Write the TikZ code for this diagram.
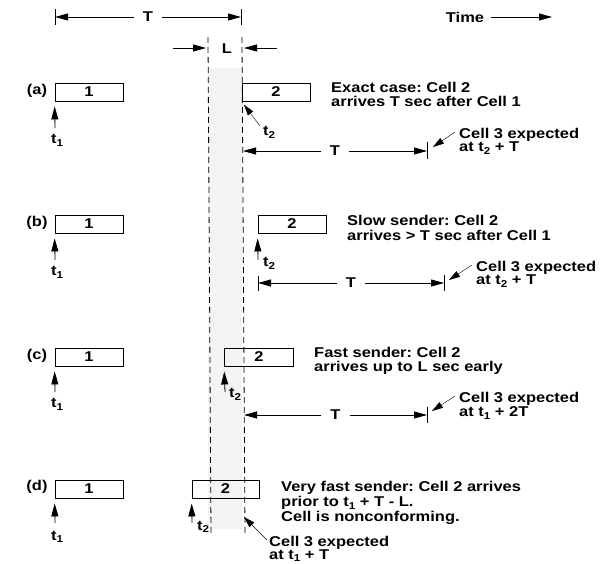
\documentclass[tikz,border=0pt]{standalone}
\usepackage{fontspec}
\setmainfont{Liberation Sans}[FakeStretch=1.16]
\usetikzlibrary{arrows.meta}
\definecolor{shadegray}{RGB}{243,243,243}
\newcommand\subn[1]{\raisebox{-0.36ex}[\height][0pt]{\fontsize{10}{10}\selectfont #1}}
\frenchspacing
\begin{document}
\begin{tikzpicture}[x=1pt,y=-1pt,
  txt/.style={font=\frenchspacing\bfseries\fontsize{14.2}{14}\selectfont, inner sep=0pt},
  lbl/.style={txt, anchor=base west},
  cellbox/.style={draw, line width=0.9pt, minimum width=68pt, minimum height=18pt, inner sep=0pt, txt},
  dimline/.style={line width=0.8pt, {Triangle[length=13pt,width=7pt]}-{Triangle[length=13pt,width=7pt]}},
  uparrow/.style={line width=0.8pt, -{Triangle[length=13pt,width=7pt]}},
  leader/.style={line width=0.4pt, -{Triangle[length=11pt,width=6.5pt]}},
  tickline/.style={line width=0.8pt},
  guide/.style={line width=0.8pt, dash pattern=on 6pt off 4pt},
  gap/.style={txt, fill=white, inner xsep=9pt, inner ysep=1pt}
]
\useasboundingbox (0,0) rectangle (606,564);

% shaded window and guide lines
\fill[shadegray] (208,68) rectangle (242,529);
\coordinate (gl1) at (208,37); \coordinate (gl2) at (211,535);
\coordinate (gr1) at (242,37); \coordinate (gr2) at (245,535);
\draw[guide] (gl1) -- (gl2);
\draw[guide] (gr1) -- (gr2);

% top T dimension
\coordinate (T0) at (55,17); \coordinate (T1) at (241,17);
\draw[tickline] (55,9) -- (55,25);
\draw[tickline] (241,9) -- (241,25);
\draw[dimline] (T0) -- node[gap] (Ttop) {T} (T1);

% Time
\node[txt] (time) at (465,17) {Time};
\coordinate (timestart) at (491,17); \coordinate (timeend) at (552,17);
\draw[uparrow] (timestart) -- (timeend);

% L
\node[txt] (L) at (227,49) {L};
\coordinate (La) at (173,48); \coordinate (Lb) at (206,48);
\coordinate (Lc) at (277,48); \coordinate (Ld) at (244,48);
\draw[uparrow] (La) -- (Lb);
\draw[uparrow] (Lc) -- (Ld);

% ---------- row (a)
\node[txt] (laba) at (37,91) {(a)};
\node[cellbox] (a1) at (89,92) {1};
\node[cellbox] (a2) at (276,92) {2};
\node[lbl] (atxt1) at (331,93) {Exact case: Cell 2};
\node[lbl] (atxt2) at (331,107) {arrives T sec after Cell 1};
\coordinate (at1tail) at (55,128);
\draw[uparrow, shorten >=5pt] (at1tail) -- (a1.south west);
\node[lbl] (at1) at (51,144) {t\subn{1}};
\coordinate (at2tail) at (260,126);
\draw[leader, shorten >=4pt] (at2tail) -- (a2.south west);
\node[lbl] (at2) at (263,136) {t\subn{2}};
\coordinate (ad0) at (243,151); \coordinate (ad1) at (427,151);
\draw[tickline] (427,142) -- (427,159);
\draw[dimline] (ad0) -- node[gap] (aT) {T} (ad1);
\node[lbl] (ac3) at (459,139) {Cell 3 expected};
\node[lbl] (ac3b) at (459,152) {at t\subn{2} + T};
\coordinate (ac3s) at (455,132); \coordinate (ac3e) at (433,147);
\draw[leader] (ac3s) -- (ac3e);

% ---------- row (b)
\node[txt] (labb) at (37,223) {(b)};
\node[cellbox] (b1) at (89,224) {1};
\node[cellbox] (b2) at (292,224) {2};
\node[lbl] (btxt1) at (347,226) {Slow sender: Cell 2};
\node[lbl] (btxt2) at (347,241) {arrives > T sec after Cell 1};
\coordinate (bt1tail) at (55,260);
\draw[uparrow, shorten >=5pt] (bt1tail) -- (b1.south west);
\node[lbl] (bt1) at (51,276) {t\subn{1}};
\coordinate (bt2tail) at (258,260);
\draw[uparrow, shorten >=5pt] (bt2tail) -- (b2.south west);
\node[lbl] (bt2) at (263,267) {t\subn{2}};
\coordinate (bd0) at (258,283); \coordinate (bd1) at (444,283);
\draw[tickline] (258,276) -- (258,291);
\draw[tickline] (444,275) -- (444,291);
\draw[dimline] (bd0) -- node[gap] (bT) {T} (bd1);
\node[lbl] (bc3) at (476,272) {Cell 3 expected};
\node[lbl] (bc3b) at (476,285) {at t\subn{2} + T};
\coordinate (bc3s) at (472,265); \coordinate (bc3e) at (449,280);
\draw[leader] (bc3s) -- (bc3e);

% ---------- row (c)
\node[txt] (labc) at (37,356) {(c)};
\node[cellbox] (c1) at (89,357) {1};
\node[cellbox, minimum width=69pt] (c2) at (259,357) {2};
\node[lbl] (ctxt1) at (314,358) {Fast sender: Cell 2};
\node[lbl] (ctxt2) at (314,372) {arrives up to L sec early};
\coordinate (ct1tail) at (55,392);
\draw[uparrow, shorten >=5pt] (ct1tail) -- (c1.south west);
\node[lbl] (ct1) at (51,408) {t\subn{1}};
\coordinate (ct2tail) at (225,392);
\draw[uparrow, shorten >=5pt] (ct2tail) -- (c2.south west);
\node[lbl] (ct2) at (229,398) {t\subn{2}};
\coordinate (cd0) at (244,415); \coordinate (cd1) at (427,415);
\draw[tickline] (427,407) -- (427,423);
\draw[dimline] (cd0) -- node[gap] (cT) {T} (cd1);
\node[lbl] (cc3) at (459,403) {Cell 3 expected};
\node[lbl] (cc3b) at (459,417) {at t\subn{1} + 2T};
\coordinate (cc3s) at (455,396); \coordinate (cc3e) at (432,411);
\draw[leader] (cc3s) -- (cc3e);

% ---------- row (d)
\node[txt] (labd) at (37,487) {(d)};
\node[cellbox] (d1) at (89,489) {1};
\node[cellbox, minimum width=67pt] (d2) at (225.5,489) {2};
\node[lbl] (dtxt1) at (281,492) {Very fast sender: Cell 2 arrives};
\node[lbl] (dtxt2) at (281,506.5) {prior to t\subn{1} + T - L.};
\node[lbl] (dtxt3) at (281,521) {Cell is nonconforming.};
\coordinate (dt1tail) at (55,523);
\draw[uparrow, shorten >=5pt] (dt1tail) -- (d1.south west);
\node[lbl] (dt1) at (51,540) {t\subn{1}};
\coordinate (dt2tail) at (192,523);
\draw[uparrow, shorten >=5pt] (dt2tail) -- (d2.south west);
\node[lbl] (dt2) at (197,530) {t\subn{2}};
\node[lbl] (dc3) at (269,546) {Cell 3 expected};
\node[lbl] (dc3b) at (269,559) {at t\subn{1} + T};
\coordinate (dc3s) at (267,540); \coordinate (dc3e) at (244,517);
\draw[leader] (dc3s) -- (dc3e);
\end{tikzpicture}
\end{document}
